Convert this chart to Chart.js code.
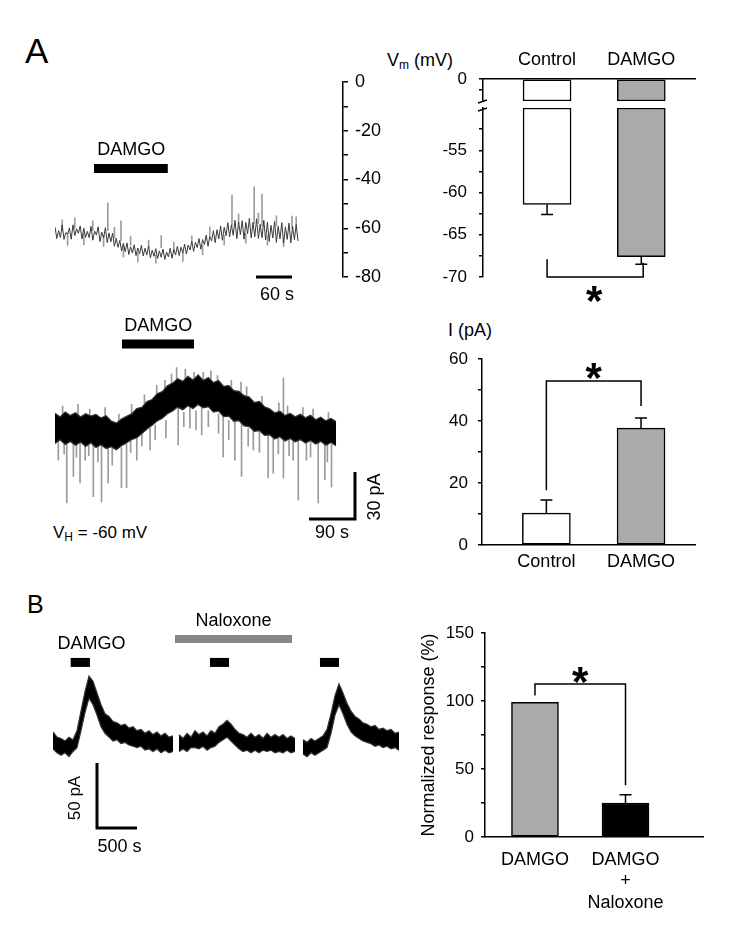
<!DOCTYPE html>
<html>
<head>
<meta charset="utf-8">
<script src="https://cdn.jsdelivr.net/npm/chart.js@4.4.1/dist/chart.umd.min.js"></script>
<style>
  body { margin: 0; background: #fff; width: 738px; height: 933px; position: relative; overflow: hidden;
         font-family: "Liberation Sans", Arial, sans-serif; color: #000; }
  canvas { position: absolute; }
  .lbl { position: absolute; font-size: 18px; line-height: 1; white-space: nowrap; color: #000; }
  .lbl sub { font-size: 12px; vertical-align: -3px; line-height: 0; color: #000; }
</style>
</head>
<body>
<div class="lbl" style="left:25px;top:33px;font-size:35px">A</div>
<div class="lbl" style="left:27px;top:592px;font-size:25px">B</div>
<div class="lbl" style="left:387px;top:51px">V<sub>m</sub> (mV)</div>
<div class="lbl" style="left:448px;top:321px">I (pA)</div>
<div class="lbl" style="left:53px;top:524px;font-size:17px">V<sub>H</sub> = -60 mV</div>

<canvas id="vmTrace" width="350" height="245" style="left:40px;top:60px"></canvas>
<canvas id="vmUpper" width="340" height="68" style="left:380px;top:40px"></canvas>
<canvas id="vmLower" width="340" height="223" style="left:380px;top:92px"></canvas>
<canvas id="iTrace" width="350" height="260" style="left:40px;top:300px"></canvas>
<canvas id="iBars" width="340" height="240" style="left:380px;top:345px"></canvas>
<canvas id="bTrace" width="390" height="270" style="left:30px;top:600px"></canvas>
<canvas id="normBars" width="306" height="318" style="left:414px;top:615px"></canvas>

<script>
// ---- A, top: membrane potential trace (mV), one sample every 3 s ----
const vmTraceStep = 3;
const vmTrace = [
  -59.5, -64.2, -61.0, -63.8, -58.6, -64.6, -61.8, -62.4, -59.9, -64.5,
  -58.6, -63.0, -60.2, -62.1, -59.0, -64.4, -60.0, -63.7, -61.3, -63.9,
  -59.2, -64.9, -61.2, -62.8, -59.4, -65.5, -61.6, -64.0, -59.8, -65.9,
  -61.9, -65.6, -62.0, -67.4, -64.1, -67.8, -65.0, -69.3, -66.2, -69.6,
  -66.0, -70.8, -67.6, -70.2, -66.8, -71.2, -68.1, -70.5, -67.0, -71.4,
  -68.2, -71.0, -67.3, -72.1, -69.0, -71.5, -68.4, -72.4, -69.3, -71.9,
  -68.6, -72.8, -69.8, -71.7, -68.2, -72.3, -68.7, -70.9, -67.4, -71.2,
  -67.8, -70.2, -66.5, -70.6, -66.9, -68.9, -65.4, -69.5, -65.8, -67.9,
  -64.2, -68.6, -64.6, -66.8, -62.8, -67.4, -63.3, -65.2, -61.0, -65.9,
  -60.6, -64.4, -59.0, -64.9, -59.6, -63.1, -57.7, -63.6, -58.6, -62.9,
  -56.7, -64.3, -57.5, -62.6, -56.9, -64.5, -57.6, -62.2, -55.9, -64.0,
  -57.6, -63.5, -56.1, -64.2, -58.4, -63.9, -56.7, -64.8, -57.5, -65.4,
  -58.8, -64.0, -57.2, -65.8, -59.2, -64.3, -57.7, -66.1, -59.4, -64.6,
  -57.9, -66.0, -59.3, -64.7, -58.5, -65.2
];
// action-potential-like spikes, then short grey noise lines around the trace
const vmSpikeTimes = [88, 110, 177, 295, 332, 345, 395,
  12, 21, 33, 48, 63, 81, 99, 114, 126, 138, 156, 168, 198, 213, 228, 246, 258, 282, 306, 318, 339, 354, 369, 381, 402];
const vmSpikeFrom = [-61, -65, -68, -59, -58, -59, -60,
  -61, -62, -60, -62, -61, -63, -64, -67, -67, -70, -68, -71, -69, -70, -66, -67, -63, -63, -58, -62, -58, -63, -59, -64, -59];
const vmSpikeTo = [-49.6, -57, -63, -46.4, -43, -46, -55,
  -56.5, -67, -55.8, -66.8, -56.9, -67.5, -59.6, -71.8, -63.2, -73.9, -64.9, -74.3, -65.7, -73.6, -63.1, -70.9, -59.4,
  -66.9, -54.1, -66.1, -53.8, -66.9, -54.9, -67.6, -55.3];
const vmAxisLabels = [0, -20, -40, -60, -80];

// ---- A, bottom: holding current trace (pA), band edges every 10 s ----
const iTraceStep = 10;
const iTraceUpper = [
  10.5, 8.2, 11.3, 9.0, 10.8, 8.1, 10.2, 8.7, 9.8, 7.5,
  8.9, 5.6, 4.3, 6.8, 8.5, 10.1, 13.4, 14.2, 17.8, 19.1,
  22.7, 24.0, 27.6, 29.3, 32.1, 30.4, 33.6, 31.2, 34.5, 31.0,
  32.8, 29.6, 30.9, 27.3, 27.8, 24.6, 24.1, 21.5, 20.6, 17.2,
  17.9, 14.5, 13.2, 10.6, 11.8, 9.1, 10.4, 8.3, 9.9, 7.6,
  9.2, 6.4, 8.0, 5.7, 7.3, 5.2
];
const iTraceLower = [
  -8.4, -6.1, -9.0, -7.2, -9.6, -7.5, -10.3, -8.0, -10.9, -9.2,
  -11.6, -10.4, -12.3, -9.8, -8.1, -6.0, -4.9, -2.2, 0.6, 2.9,
  5.7, 7.4, 10.1, 11.8, 14.3, 12.6, 15.2, 13.4, 15.9, 13.8,
  14.6, 11.2, 11.9, 8.3, 8.7, 5.4, 5.9, 2.6, 2.1, -0.8,
  -0.4, -3.3, -3.0, -5.6, -4.2, -6.9, -5.3, -7.4, -6.0, -8.1,
  -6.6, -8.8, -7.1, -9.5, -7.8, -9.9
];
// long spikes, then the short ones that fringe the band
const iSpikeTimes = [6.5, 23, 36, 49, 59, 75, 91, 104, 130, 140, 160, 186, 241, 264, 287, 329,
  352, 365, 388, 417, 427, 447, 466, 476, 492, 515, 528, 541, 238, 290, 364, 447,
  15, 45, 68, 98, 125, 150, 175, 199, 215, 228, 255, 272, 305, 318, 345, 375, 405, 438, 455, 485, 505, 535,
  18, 42, 66, 84, 112, 148, 170, 196, 217, 252, 276, 300, 320, 340, 378, 400, 437, 458, 500, 533];
const iSpikeFrom = [-7, -8, -8, -8, -9, -9, -10, -11, -11, -9, -5, 1, 14, 14, 14, 9,
  6, 5, 0, -3, -4, -5, -6, -7, -8, -8, -9, -9, 30, 30, 22, 9,
  8, 8, 7, 6, 3, 8, 14, 20, 22, 26, 29, 29, 29, 27, 23, 18, 13, 9, 7, 7, 6, 4,
  -6, -7, -7, -8, -9, -5, -1, 3, 6, 11, 12, 12, 10, 6, 1, -1, -3, -4, -5, -7];
const iSpikeTo = [-18.8, -45.6, -29, -33, -18.8, -41.7, -45, -33, -36, -36, -18.8, -12.5, -9.4, 1.2, -3, -16.9,
  -18.8, -29, -12.5, -30, -27, -30, -18.8, -43.8, -18.8, -45.6, -31, -35.6, 39, 36, 30, 32.5,
  15, 16, 13, 14, 10, 16, 22, 28, 31, 35, 38, 36, 37, 34, 31, 27, 21, 17, 15, 14, 13, 11,
  -15, -17, -16, -20, -22, -14, -10, -6, -5, 2, 0, 2, -2, -6, -10, -14, -15, -16, -17, -20];

// ---- B: three current recordings (pA), band edges every 50 s ----
const bStep = 50;
const bSegmentStarts = [0, 1575, 3125];
const bUpper = [
  [10, 6, 5, 3, 6, 4, 11, 26, 41, 53, 49, 40, 31, 24, 22, 18, 17, 15, 16, 13, 14, 11, 12, 9, 11, 8, 10, 7, 9, 6, 7],
  [8, 5, 9, 6, 11, 8, 10, 7, 11, 9, 14, 16, 19, 16, 12, 9, 8, 6, 9, 6, 8, 5, 9, 6, 8, 6, 8, 5, 7, 5],
  [4, 2, 5, 3, 5, 7, 12, 24, 38, 47, 40, 32, 26, 22, 20, 17, 16, 14, 15, 12, 13, 11, 12, 9, 10]
];
const bLower = [
  [-3, -6, -8, -6, -9, -5, -2, 11, 25, 36, 31, 23, 14, 9, 6, 3, 4, 1, 2, 0, -1, -2, -1, -4, -3, -5, -3, -6, -4, -6, -5],
  [-5, -3, -5, -2, -2, -3, -1, -4, -2, -1, 2, 4, 6, 3, 0, -3, -5, -4, -6, -4, -6, -4, -5, -4, -6, -5, -6, -4, -6, -5],
  [-7, -9, -6, -8, -6, -4, -2, 9, 23, 31, 24, 16, 10, 7, 5, 3, 2, 1, -1, 0, -2, -1, -3, -2, -4]
];

// ---- bar charts ----
const vmCategories = ['Control', 'DAMGO'];
const vmMeans = [-61.4, -67.6];
const vmErrors = [1.2, 0.9];
const vmUpperTicks = [-1.25, 0];
const vmLowerTicks = [-70, -67.5, -65, -62.5, -60, -57.5, -55, -52.5];
const vmTickLabels = [0, -55, -60, -65, -70];

const iCategories = ['Control', 'DAMGO'];
const iMeans = [10.3, 37.7];
const iErrors = [4.2, 3.3];
const iTicks = [0, 10, 20, 30, 40, 50, 60];
const iTickLabels = [0, 20, 40, 60];

const normCategories = ['DAMGO', ['DAMGO', '+', 'Naloxone']];
const normMeans = [99, 25];
const normErrors = [0, 6];
const normTicks = [0, 25, 50, 75, 100, 125, 150];
const normTickLabels = [0, 50, 100, 150];

const FONT = '"Liberation Sans", Arial, sans-serif';
const GREY = '#aaaaaa';

Chart.defaults.font.family = FONT;
Chart.defaults.font.size = 18;
Chart.defaults.color = '#000';
Chart.defaults.animation = false;
Chart.defaults.events = [];
Chart.defaults.plugins.legend.display = false;
Chart.defaults.plugins.tooltip.enabled = false;
Chart.defaults.elements.point.radius = 0;
Chart.defaults.elements.line.tension = 0;

// draws drug bars, scale bars, brackets, labels and error bars in data units
const marks = {
  id: 'marks',
  afterDatasetsDraw(chart, args, o) {
    const ctx = chart.ctx, xs = chart.scales.x, ys = chart.scales.y;
    const px = v => xs.getPixelForValue(v), py = v => ys.getPixelForValue(v);
    ctx.save();
    ctx.lineJoin = 'miter';
    ctx.lineCap = 'butt';
    (o.lines || []).forEach(l => {
      ctx.beginPath();
      ctx.strokeStyle = l.color || '#000';
      ctx.lineWidth = l.width || 1.5;
      l.pts.forEach(([a, b], i) => i ? ctx.lineTo(px(a), py(b)) : ctx.moveTo(px(a), py(b)));
      ctx.stroke();
    });
    if (o.means) {
      ctx.strokeStyle = '#000';
      ctx.lineWidth = 1.5;
      o.means.forEach((m, i) => {
        const e = o.errors[i];
        if (!e) return;
        const x = px(i + 1), y0 = py(m), y1 = py(m + Math.sign(m) * e);
        ctx.beginPath();
        ctx.moveTo(x, y0); ctx.lineTo(x, y1);
        ctx.moveTo(x - 6, y1); ctx.lineTo(x + 6, y1);
        ctx.stroke();
      });
    }
    (o.texts || []).forEach(t => {
      ctx.save();
      ctx.fillStyle = '#000';
      ctx.font = (t.size || 18) + 'px ' + FONT;
      ctx.textAlign = 'center';
      ctx.textBaseline = 'middle';
      ctx.translate(px(t.at[0]), py(t.at[1]));
      if (t.rotate) ctx.rotate(t.rotate);
      ctx.fillText(t.text, 0, 0);
      ctx.restore();
    });
    (o.stars || []).forEach(([a, b]) => {
      ctx.fillStyle = '#000';
      ctx.font = 'bold 42px ' + FONT;
      ctx.textAlign = 'center';
      ctx.textBaseline = 'alphabetic';
      ctx.fillText('*', px(a), py(b) + 42 * 0.57);
    });
    if (o.axisBreak) {
      const x0 = chart.chartArea.left, y0 = chart.chartArea.top;
      ctx.strokeStyle = '#000';
      ctx.lineWidth = 1.5;
      ctx.beginPath();
      ctx.moveTo(x0 - 5, y0 - 5); ctx.lineTo(x0 + 4, y0 - 8);
      ctx.moveTo(x0 - 5, y0 + 3); ctx.lineTo(x0 + 4, y0);
      ctx.stroke();
    }
    ctx.restore();
  }
};

const hiddenAxis = (min, max) => ({ type: 'linear', display: false, min, max, offset: false, grid: { offset: false } });

// A, top trace
new Chart(document.getElementById('vmTrace'), {
  type: 'line',
  data: {
    datasets: [
      { data: vmTrace.map((v, i) => ({ x: i * vmTraceStep, y: v })), borderColor: '#3a3a3a', borderWidth: 1 },
      { type: 'bar', data: vmSpikeTimes.map((t, i) => ({ x: t, y: [vmSpikeFrom[i], vmSpikeTo[i]] })),
        backgroundColor: '#9c9c9c', barThickness: 1 }
    ]
  },
  options: {
    responsive: false, devicePixelRatio: 1,
    layout: { padding: { left: 15, top: 22, right: 7, bottom: 28 } },
    scales: {
      x: hiddenAxis(0, 480),
      y: {
        position: 'right', min: -80, max: 0,
        ticks: { stepSize: 10, padding: 7, autoSkip: false, font: { size: 18 },
                 callback: v => vmAxisLabels.includes(v) ? String(v) : '' },
        grid: { drawOnChartArea: false, tickLength: 5, color: '#000', lineWidth: 1.5 },
        border: { color: '#000', width: 1.5 },
        afterFit: a => { a.width = 40; a.paddingTop = 0; a.paddingBottom = 0; }
      }
    },
    plugins: {
      marks: {
        lines: [
          { pts: [[65, -35.5], [188, -35.5]], width: 9 },
          { pts: [[335, -80], [395, -80]], width: 3 }
        ],
        texts: [
          { text: 'DAMGO', at: [127, -27.9] },
          { text: '60 s', at: [370, -87.2] }
        ]
      }
    }
  },
  plugins: [marks]
});

// A, bottom trace
new Chart(document.getElementById('iTrace'), {
  type: 'line',
  data: {
    datasets: [
      { data: iTraceUpper.map((v, i) => ({ x: i * iTraceStep, y: v })), borderColor: '#333', borderWidth: 1.2 },
      { data: iTraceLower.map((v, i) => ({ x: i * iTraceStep, y: v })), borderColor: '#333', borderWidth: 1.2,
        fill: '-1', backgroundColor: '#000' },
      { type: 'bar', data: iSpikeTimes.map((t, i) => ({ x: t, y: [iSpikeFrom[i], iSpikeTo[i]] })),
        backgroundColor: '#9a9a9a', barThickness: 1 }
    ]
  },
  options: {
    responsive: false, devicePixelRatio: 1,
    layout: { padding: { left: 15, top: 18, right: 35, bottom: 18 } },
    scales: { x: hiddenAxis(0, 587), y: hiddenAxis(-70, 70) },
    plugins: {
      marks: {
        lines: [
          { pts: [[131, 53.75], [272, 53.75]], width: 9 },
          { pts: [[497, -55.6], [587, -55.6], [587, -26.3]], width: 3 }
        ],
        texts: [
          { text: 'DAMGO', at: [202, 65] },
          { text: '90 s', at: [542, -64.4] },
          { text: '30 pA', at: [626, -41.9], rotate: -Math.PI / 2 }
        ]
      }
    }
  },
  plugins: [marks]
});

// B, traces
const bDatasets = [];
bSegmentStarts.forEach((t0, s) => {
  bDatasets.push({ data: bUpper[s].map((v, i) => ({ x: t0 + i * bStep, y: v })), borderColor: '#333', borderWidth: 1.2 });
  bDatasets.push({ data: bLower[s].map((v, i) => ({ x: t0 + i * bStep, y: v })), borderColor: '#333', borderWidth: 1.2,
    fill: '-1', backgroundColor: '#000' });
});
new Chart(document.getElementById('bTrace'), {
  type: 'line',
  data: { datasets: bDatasets },
  options: {
    responsive: false, devicePixelRatio: 1,
    layout: { padding: { left: 23, top: 15, right: 17, bottom: 10 } },
    scales: { x: hiddenAxis(0, 4375), y: hiddenAxis(-88.5, 100) },
    plugins: {
      marks: {
        lines: [
          { pts: [[1525, 81.5], [2987, 81.5]], width: 8, color: '#888' },
          { pts: [[221, 63.5], [462, 63.5]], width: 9 },
          { pts: [[1962, 63.5], [2200, 63.5]], width: 9 },
          { pts: [[3337, 63.5], [3575, 63.5]], width: 9 },
          { pts: [[550, -13.8], [550, -63.8], [1050, -63.8]], width: 3 }
        ],
        texts: [
          { text: 'DAMGO', at: [481, 78] },
          { text: 'Naloxone', at: [2256, 95] },
          { text: '50 pA', at: [281, -40.8], rotate: -Math.PI / 2, size: 17 },
          { text: '500 s', at: [831, -78.5] }
        ]
      }
    }
  },
  plugins: [marks]
});

function barChart(id, s) {
  const cats = s.categories;
  return new Chart(document.getElementById(id), {
    type: 'bar',
    data: {
      datasets: [{
        data: s.bars.map((b, i) => ({ x: i + 1, y: b })),
        backgroundColor: s.colors,
        borderColor: '#000',
        borderWidth: 1.5,
        borderSkipped: false,
        barThickness: s.barWidth
      }]
    },
    options: {
      responsive: false, devicePixelRatio: 1,
      layout: { padding: s.padding },
      scales: {
        x: {
          type: 'linear', min: s.xRange[0], max: s.xRange[1], offset: false,
          display: s.xAxis !== false, position: s.xPosition || 'bottom',
          afterBuildTicks: a => { a.ticks = cats.map((c, i) => ({ value: i + 1 })); },
          ticks: { autoSkip: false, maxRotation: 0, padding: s.xPadding || 0, font: { size: 18 }, callback: v => cats[v - 1] },
          grid: { display: false, drawTicks: false, offset: false },
          border: { display: true, color: '#000', width: 1.5 },
          afterFit: a => { a.height = s.xHeight || 0; a.paddingLeft = 0; a.paddingRight = 0; }
        },
        y: {
          min: s.yRange[0], max: s.yRange[1],
          afterBuildTicks: a => { a.ticks = s.yTicks.map(v => ({ value: v })); },
          ticks: { padding: s.yPadding, autoSkip: false, font: { size: 17 },
                   callback: v => s.yLabels.includes(v) ? String(v) : '' },
          grid: { drawOnChartArea: false, tickLength: 4, color: '#000', lineWidth: 1.5 },
          border: { color: '#000', width: 1.5 },
          title: s.yTitle ? { display: true, text: s.yTitle, font: { size: 18 }, padding: { top: 4, bottom: 0 } } : { display: false },
          afterFit: a => { a.width = s.yWidth; a.paddingTop = 0; a.paddingBottom = 0; }
        }
      },
      plugins: { marks: s.marks || {} }
    },
    plugins: [marks]
  });
}

// A, Vm bars with a broken axis: top piece (0 .. break) and bottom piece (-50 .. -70)
barChart('vmUpper', {
  categories: vmCategories,
  bars: vmCategories.map(() => [0, -2.6]),
  colors: ['#fff', GREY], barWidth: 48,
  padding: { top: 0, right: 25, bottom: 7, left: 0 },
  xRange: [0.32, 2.57], xPosition: 'top', xHeight: 39, xPadding: 8,
  yRange: [-2.6, 0], yTicks: vmUpperTicks, yLabels: vmTickLabels, yWidth: 103, yPadding: 12
});
barChart('vmLower', {
  categories: vmCategories,
  bars: vmMeans.map(m => [-50, m]),
  colors: ['#fff', GREY], barWidth: 48,
  padding: { top: 16, right: 25, bottom: 38, left: 0 },
  xRange: [0.32, 2.57], xAxis: false,
  yRange: [-70, -50], yTicks: vmLowerTicks, yLabels: vmTickLabels, yWidth: 103, yPadding: 12,
  marks: {
    means: vmMeans, errors: vmErrors, axisBreak: true,
    lines: [{ pts: [[1, -67.9], [1, -70], [2.02, -70], [2.02, -68.3]] }],
    stars: [[1.5, -71.7]]
  }
});

// A, current bars
barChart('iBars', {
  categories: iCategories,
  bars: iMeans,
  colors: ['#fff', GREY], barWidth: 48,
  padding: { top: 14, right: 25, bottom: 10, left: 0 },
  xRange: [0.32, 2.57], xHeight: 30, xPadding: 6,
  yRange: [0, 60], yTicks: iTicks, yLabels: iTickLabels, yWidth: 102, yPadding: 10,
  marks: {
    means: iMeans, errors: iErrors,
    lines: [{ pts: [[1, 17.7], [1, 52.9], [2, 52.9], [2, 44.8]] }],
    stars: [[1.5, 57.1]]
  }
});

// B, normalized response bars
barChart('normBars', {
  categories: normCategories,
  bars: normMeans,
  colors: [GREY, '#000'], barWidth: 47,
  padding: { top: 18, right: 17, bottom: 16, left: 0 },
  xRange: [0.448, 2.856], xHeight: 80, xPadding: 12,
  yRange: [0, 150], yTicks: normTicks, yLabels: normTickLabels, yWidth: 71, yPadding: 7,
  yTitle: 'Normalized response (%)',
  marks: {
    means: normMeans, errors: normErrors,
    lines: [{ pts: [[1, 104], [1, 112.5], [2, 112.5], [2, 38]] }],
    stars: [[1.5, 121]]
  }
});
</script>
</body>
</html>
